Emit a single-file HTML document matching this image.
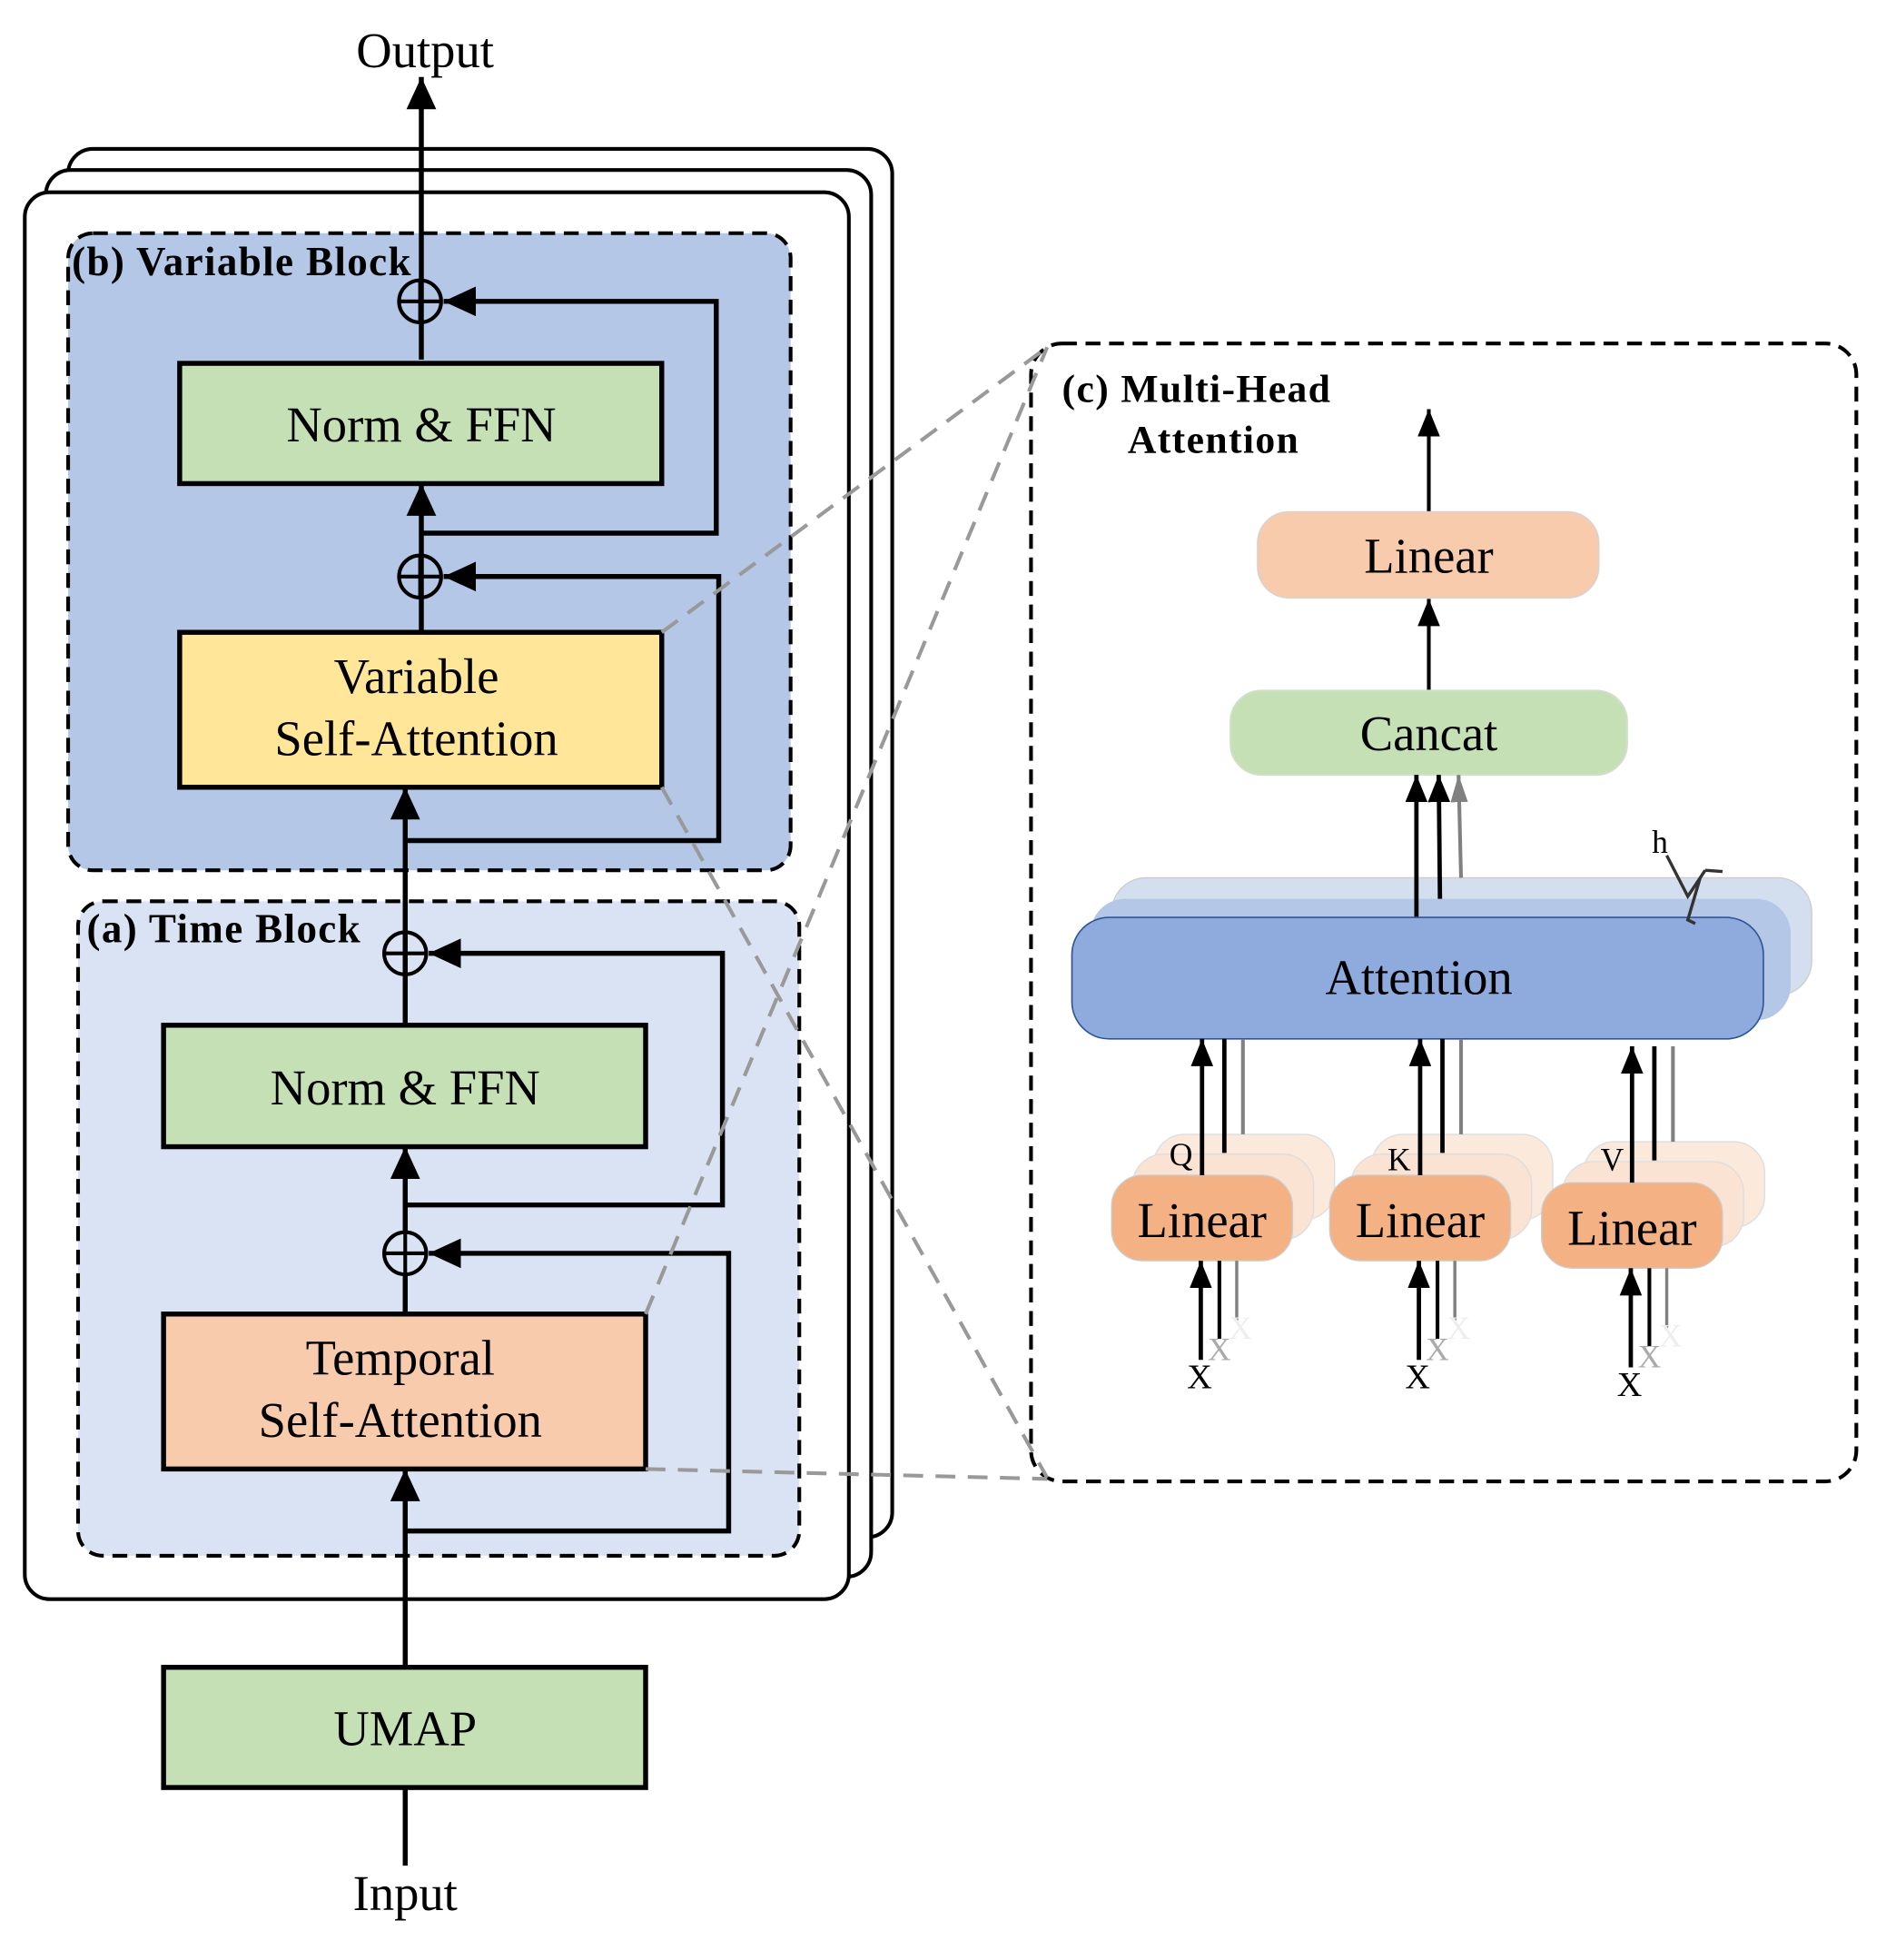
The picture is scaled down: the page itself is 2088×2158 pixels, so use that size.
<!DOCTYPE html>
<html><head><meta charset="utf-8"><style>html,body{margin:0;padding:0;background:#fff}svg{display:block}text{font-family:"Liberation Serif",serif}</style></head><body>
<svg width="2088" height="2158" viewBox="0 0 1530 1581" xmlns="http://www.w3.org/2000/svg">
<defs>
<marker id="A" viewBox="0 0 10 10" refX="10" refY="5" markerWidth="26" markerHeight="24" orient="auto" markerUnits="userSpaceOnUse" preserveAspectRatio="none"><path d="M0,0 L10,5 L0,10 z" fill="#000"/></marker>
<marker id="S" viewBox="0 0 10 10" refX="10" refY="5" markerWidth="22" markerHeight="18" orient="auto" markerUnits="userSpaceOnUse" preserveAspectRatio="none"><path d="M0,0 L10,5 L0,10 z" fill="#000"/></marker>
<marker id="G" viewBox="0 0 10 10" refX="10" refY="5" markerWidth="22" markerHeight="14" orient="auto" markerUnits="userSpaceOnUse" preserveAspectRatio="none"><path d="M0,0 L10,5 L0,10 z" fill="#808080"/></marker>
</defs>
<rect x="55" y="120" width="665" height="1120" rx="20" fill="#fff" stroke="#000" stroke-width="3"/>
<rect x="37" y="137" width="666" height="1135" rx="20" fill="#fff" stroke="#000" stroke-width="3"/>
<rect x="20" y="155" width="665" height="1135" rx="20" fill="#fff" stroke="#000" stroke-width="3"/>
<rect x="55" y="188" width="583" height="514" rx="20" fill="#b4c7e7" stroke="#000" stroke-width="3" stroke-dasharray="12,7"/>
<rect x="63" y="727" width="582" height="528" rx="20" fill="#dae3f3" stroke="#000" stroke-width="3" stroke-dasharray="12,7"/>
<text x="58" y="222" font-size="33" font-weight="bold" letter-spacing="1">(b) Variable Block</text>
<text x="70" y="760" font-size="33" font-weight="bold" letter-spacing="1">(a) Time Block</text>
<g stroke="#000" stroke-width="4" fill="none">
<line x1="340" y1="290" x2="340" y2="62" marker-end="url(#A)"/>
<line x1="340" y1="482" x2="340" y2="390" marker-end="url(#A)"/>
<line x1="327" y1="1505" x2="327" y2="1442"/>
<line x1="327" y1="1345" x2="327" y2="1185" marker-end="url(#A)"/>
<line x1="327" y1="1060" x2="327" y2="1028"/>
<line x1="327" y1="994" x2="327" y2="925" marker-end="url(#A)"/>
<line x1="327" y1="827" x2="327" y2="752"/>
<line x1="327" y1="786" x2="327" y2="635" marker-end="url(#A)"/>
<line x1="340" y1="510" x2="340" y2="482"/>
<polyline points="340,430 578,430 578,243 358,243" marker-end="url(#A)"/>
<polyline points="328,678 580,678 580,465 358,465" marker-end="url(#A)"/>
<polyline points="327,972 583,972 583,769 346,769" marker-end="url(#A)"/>
<polyline points="327,1235 588,1235 588,1011 346,1011" marker-end="url(#A)"/>
</g>
<g stroke="#000" stroke-width="3" fill="none">
<circle cx="339" cy="243" r="17"/><line x1="322" y1="243" x2="356" y2="243"/><line x1="339" y1="226" x2="339" y2="260"/>
<circle cx="339" cy="465" r="17"/><line x1="322" y1="465" x2="356" y2="465"/><line x1="339" y1="448" x2="339" y2="482"/>
<circle cx="327" cy="769" r="17"/><line x1="310" y1="769" x2="344" y2="769"/><line x1="327" y1="752" x2="327" y2="786"/>
<circle cx="327" cy="1011" r="17"/><line x1="310" y1="1011" x2="344" y2="1011"/><line x1="327" y1="994" x2="327" y2="1028"/>
</g>
<rect x="145" y="293" width="389" height="97" fill="#c5e0b4" stroke="#000" stroke-width="4"/>
<rect x="145" y="510" width="389" height="125" fill="#ffe699" stroke="#000" stroke-width="4"/>
<rect x="132" y="827" width="389" height="98" fill="#c5e0b4" stroke="#000" stroke-width="4"/>
<rect x="132" y="1060" width="389" height="125" fill="#f8cbad" stroke="#000" stroke-width="4"/>
<rect x="132" y="1345" width="389" height="97" fill="#c5e0b4" stroke="#000" stroke-width="4"/>
<g font-size="40" text-anchor="middle">
<text x="343" y="54">Output</text>
<text x="340" y="356">Norm &amp; FFN</text>
<text x="336" y="559">Variable</text>
<text x="336" y="609">Self-Attention</text>
<text x="327" y="891">Norm &amp; FFN</text>
<text x="323" y="1109">Temporal</text>
<text x="323" y="1159">Self-Attention</text>
<text x="327" y="1408">UMAP</text>
<text x="327" y="1541">Input</text>
</g>
<rect x="832" y="277" width="666" height="918" rx="25" fill="#fff" stroke="#000" stroke-width="3" stroke-dasharray="12,7"/>
<g stroke="#999" stroke-width="3" stroke-dasharray="16,10" fill="none">
<line x1="534" y1="510" x2="845" y2="280"/>
<line x1="534" y1="635" x2="845" y2="1192"/>
<line x1="521" y1="1060" x2="845" y2="280"/>
<line x1="521" y1="1185" x2="845" y2="1193"/>
</g>
<text x="857" y="324" font-size="32" font-weight="bold" letter-spacing="1">(c) Multi-Head</text>
<text x="910" y="365" font-size="32" font-weight="bold" letter-spacing="1">Attention</text>
<line x1="1153" y1="413" x2="1153" y2="330" stroke="#000" stroke-width="3" marker-end="url(#S)"/>
<rect x="1015" y="413" width="275" height="69" rx="25" fill="#f8cbad" stroke="#e0d0c8" stroke-width="1.5"/>
<line x1="1153" y1="557" x2="1153" y2="483" stroke="#000" stroke-width="3" marker-end="url(#S)"/>
<rect x="993" y="557" width="320" height="68" rx="25" fill="#c5e0b4" stroke="#d0e0c8" stroke-width="1.5"/>
<text x="1153" y="462" font-size="40" text-anchor="middle">Linear</text>
<text x="1153" y="605" font-size="40" text-anchor="middle">Cancat</text>
<rect x="897" y="708" width="565" height="95" rx="28" fill="#d3deef" stroke="#ccc" stroke-width="1"/>
<rect x="880" y="725" width="565" height="98" rx="28" fill="#b4c7e7"/>
<line x1="1143" y1="740" x2="1143" y2="625" stroke="#000" stroke-width="3.5" marker-end="url(#S)"/>
<line x1="1162" y1="725" x2="1161" y2="625" stroke="#000" stroke-width="3.5" marker-end="url(#S)"/>
<line x1="1179" y1="708" x2="1177" y2="625" stroke="#808080" stroke-width="3" marker-end="url(#G)"/>
<rect x="865" y="740" width="558" height="98" rx="30" fill="#8faadc" stroke="#2f5597" stroke-width="1.2"/>
<text x="1145" y="802" font-size="40" text-anchor="middle">Attention</text>
<text x="1333" y="688" font-size="26">h</text>
<polyline points="1345,690 1362,723 1372,708 1376,702" stroke="#333" stroke-width="2.5" fill="none"/>
<polyline points="1376,702 1390,703" stroke="#333" stroke-width="2.5"/>
<polyline points="1372,708 1362,742 1368,745" stroke="#333" stroke-width="2.5" fill="none"/>
<g id="grp">
<rect x="931" y="915" width="146" height="69" rx="25" fill="#fbe9dc" stroke="#ddd" stroke-width="1"/>
<rect x="914" y="931" width="146" height="69" rx="25" fill="#fae3d3" stroke="#ddd" stroke-width="1"/>
<line x1="988" y1="930" x2="988" y2="838" stroke="#000" stroke-width="3.5"/>
<line x1="1003" y1="915" x2="1003" y2="838" stroke="#808080" stroke-width="3"/>
<rect x="897" y="948" width="146" height="69" rx="25" fill="#f4b183" stroke="#ccc" stroke-width="1"/>
<line x1="970" y1="948" x2="970" y2="838" stroke="#000" stroke-width="3.5" marker-end="url(#S)"/>
<text x="970" y="998" font-size="40" text-anchor="middle">Linear</text>
<line x1="969" y1="1097" x2="969" y2="1017" stroke="#000" stroke-width="3.5" marker-end="url(#S)"/>
<line x1="984" y1="1017" x2="984" y2="1080" stroke="#000" stroke-width="3"/>
<line x1="998" y1="1017" x2="998" y2="1065" stroke="#808080" stroke-width="2.5"/>
<text x="968" y="1120" font-size="28" text-anchor="middle">X</text>
<text x="984" y="1097" font-size="26" text-anchor="middle" fill="#aaa">X</text>
<text x="1001" y="1080" font-size="26" text-anchor="middle" fill="#eee">X</text>
</g>
<use href="#grp" x="176"/>
<use href="#grp" x="347" y="6"/>
<text x="953" y="940" font-size="26" text-anchor="middle">Q</text>
<text x="1129" y="944" font-size="26" text-anchor="middle">K</text>
<text x="1301" y="944" font-size="26" text-anchor="middle">V</text>
</svg>
</body></html>
